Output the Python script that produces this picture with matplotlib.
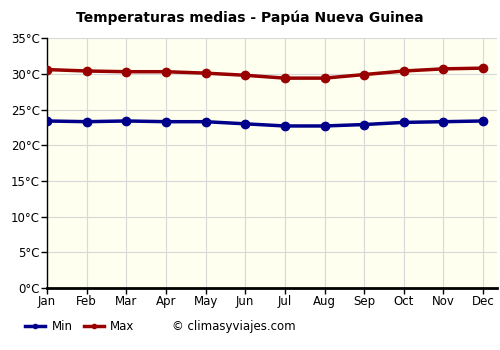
import numpy as np
import matplotlib.pyplot as plt
from matplotlib.lines import Line2D

months = ['Jan', 'Feb', 'Mar', 'Apr', 'May', 'Jun', 'Jul', 'Aug', 'Sep', 'Oct', 'Nov', 'Dec']
t_min = [23.4, 23.3, 23.4, 23.3, 23.3, 23.0, 22.7, 22.7, 22.9, 23.2, 23.3, 23.4]
t_max = [30.6, 30.4, 30.3, 30.3, 30.1, 29.8, 29.4, 29.4, 29.9, 30.4, 30.7, 30.8]
yticks = [0, 5, 10, 15, 20, 25, 30, 35]

min_color = '#00008b'
max_color = '#990000'

fig = plt.figure(figsize=(5, 3.5), dpi=100)
ax = fig.add_axes([0.094, 0.177, 0.9, 0.714])
ax.set_facecolor('#fffff0')

x = np.arange(len(months))
ax.plot(x, t_min, color=min_color, lw=2.5, marker='o', ms=6, zorder=3)
ax.plot(x, t_max, color=max_color, lw=2.5, marker='o', ms=6, zorder=3)

ax.set_xlim(0, 11.35)
ax.set_ylim(0, 35)
ax.set_xticks(x)
ax.set_xticklabels(months, fontsize=8.5)
ax.set_yticks(yticks)
ax.set_yticklabels([f'{v}°C' for v in yticks], fontsize=8.5)
ax.grid(True, color='#d8d8d8', lw=0.8)
ax.set_axisbelow(True)

for side in ['top', 'right']:
    ax.spines[side].set_visible(False)
ax.spines['left'].set_linewidth(1)
ax.spines['bottom'].set_linewidth(2)
ax.tick_params(axis='both', length=4, width=1, pad=1, colors='black')

fig.text(0.5, 0.948, 'Temperaturas medias - Papúa Nueva Guinea', ha='center', va='center',
         fontsize=10, fontweight='bold')

# legend drawn by hand in figure coords
ly = 0.068
for x0, col, lab in [(0.05, min_color, 'Min'), (0.167, max_color, 'Max')]:
    fig.add_artist(Line2D([x0, x0 + 0.04], [ly, ly], color=col, lw=2.5,
                          transform=fig.transFigure))
    fig.add_artist(Line2D([x0 + 0.02], [ly], color=col, marker='o', ms=3,
                          transform=fig.transFigure))
    fig.text(x0 + 0.053, ly, lab, ha='left', va='center', fontsize=8.5)
fig.text(0.343, ly, '© climasyviajes.com', ha='left', va='center', fontsize=8.5)

fig.savefig('out.png', dpi=100)
